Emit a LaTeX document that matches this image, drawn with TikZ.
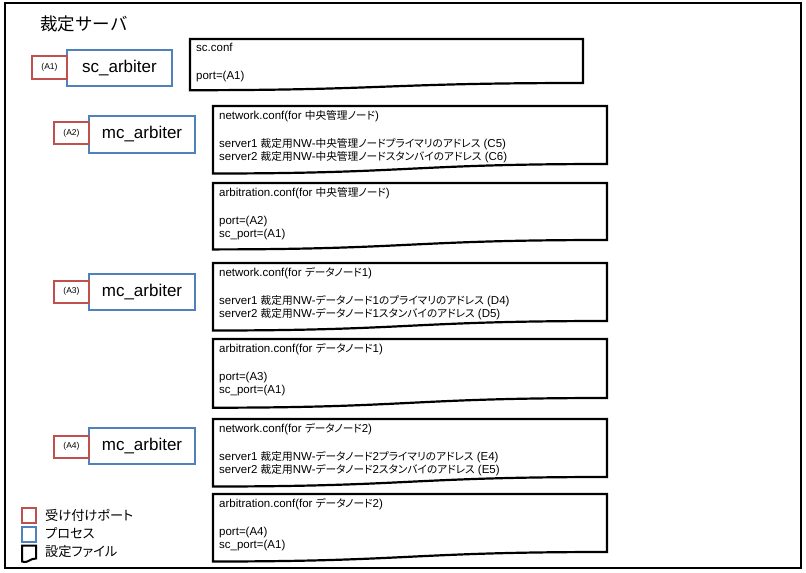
\documentclass[tikz,border=0pt]{standalone}
\usepackage{fontspec}
\setmainfont{Liberation Sans}
\newfontfamily\jp[RawFeature=+palt,Scale=0.93]{Noto Sans CJK JP}
\newfontfamily\jpw{Noto Sans CJK JP}
\definecolor{pred}{HTML}{C0504D}
\definecolor{pblue}{HTML}{4F81BD}
\newcommand\mydoc[6]{%
  \draw[docline] (#1,#3) -- (#2,#3) -- (#2,#4) .. controls (#6,#4) and (#6,#5) .. (#1,#5) -- cycle;}
\begin{document}
\begin{tikzpicture}[x=1pt,y=-1pt,
  frame/.style={draw=black,line width=2pt},
  procbox/.style={draw=pblue,line width=2pt,fill=white,minimum width=106pt,minimum height=36pt,inner sep=0pt,font=\fontsize{17}{20}\selectfont},
  portbox/.style={draw=pred,line width=2pt,fill=white,minimum width=35pt,minimum height=22pt,inner sep=0pt,font=\fontsize{8.5}{10}\selectfont},
  docline/.style={draw=black,line width=2.2pt,fill=white,line join=miter},
  conftext/.style={anchor=base west,inner sep=0pt,font=\fontsize{11.5}{13}\selectfont},
  legtext/.style={anchor=base west,inner sep=0pt,font=\fontsize{14.2}{16}\selectfont\jp},
]
\useasboundingbox (0,0) rectangle (806,573);
\fill[white] (0,0) rectangle (806,573);
\draw[frame] (5,3) rectangle (800.5,568);
\node[anchor=west,inner sep=0pt,font=\fontsize{17.5}{20}\selectfont\jpw] (title) at (40,23.5) {裁定サーバ};

% processes and ports
\node[procbox,minimum width=105pt] (p1) at (119.5,68) {sc\_arbiter};
\node[portbox,minimum height=23pt] (a1) at (49.5,67.5) {(A1)};
\node[procbox,minimum height=37pt] (p2) at (142,134.5) {mc\_arbiter};
\node[portbox] (a2) at (71.5,133) {(A2)};
\node[procbox] (p3) at (142,292) {mc\_arbiter};
\node[portbox] (a3) at (71.5,291.5) {(A3)};
\node[procbox] (p4) at (142,446) {mc\_arbiter};
\node[portbox] (a4) at (71.5,446.5) {(A4)};

% config documents
\mydoc{190}{583}{39}{83}{90.2}{386.5}
\node[conftext] (s1) at (196,51.5) {sc.conf};
\node[conftext] (s2) at (196,79.5) {port=(A1)};

\mydoc{213}{607}{106}{164}{173.5}{410}
\node[conftext] (n1a) at (219,119) {network.conf(for {\jp 中央管理ノード})};
\node[conftext] (n1b) at (219,147.5) {server1 {\jp 裁定用}NW-{\jp 中央管理ノードプライマリのアドレス} (C5)};
\node[conftext] (n1c) at (219,160) {server2 {\jp 裁定用}NW-{\jp 中央管理ノードスタンバイのアドレス} (C6)};

\mydoc{213}{607}{183}{240}{249.4}{410}
\node[conftext] (r1a) at (219,196) {arbitration.conf(for {\jp 中央管理ノード})};
\node[conftext] (r1b) at (219,224.5) {port=(A2)};
\node[conftext] (r1c) at (219,237) {sc\_port=(A1)};

\mydoc{213}{607}{263}{321}{330.5}{410}
\node[conftext] (n2a) at (219,276) {network.conf(for {\jp データノード}1)};
\node[conftext] (n2b) at (219,304.5) {server1 {\jp 裁定用}NW-{\jp データノード}1{\jp のプライマリのアドレス} (D4)};
\node[conftext] (n2c) at (219,317) {server2 {\jp 裁定用}NW-{\jp データノード}1{\jp スタンバイのアドレス} (D5)};

\mydoc{213}{607}{339}{398}{407.7}{410}
\node[conftext] (r2a) at (219,352) {arbitration.conf(for {\jp データノード}1)};
\node[conftext] (r2b) at (219,380.5) {port=(A3)};
\node[conftext] (r2c) at (219,393) {sc\_port=(A1)};

\mydoc{213}{607}{419}{477}{486.5}{410}
\node[conftext] (n3a) at (219,432) {network.conf(for {\jp データノード}2)};
\node[conftext] (n3b) at (219,460.5) {server1 {\jp 裁定用}NW-{\jp データノード}2{\jp プライマリのアドレス} (E4)};
\node[conftext] (n3c) at (219,473) {server2 {\jp 裁定用}NW-{\jp データノード}2{\jp スタンバイのアドレス} (E5)};

\mydoc{213}{607}{494}{552}{561.5}{410}
\node[conftext] (r3a) at (219,507) {arbitration.conf(for {\jp データノード}2)};
\node[conftext] (r3b) at (219,535.5) {port=(A4)};
\node[conftext] (r3c) at (219,548) {sc\_port=(A1)};

% legend
\node[draw=pred,line width=2pt,minimum width=14pt,minimum height=15pt,inner sep=0pt] (lr) at (29,515.5) {};
\node[draw=pblue,line width=2pt,minimum width=14pt,minimum height=15pt,inner sep=0pt] (lb) at (29,534.5) {};
\draw[black,line width=2pt,line join=miter] (22,545.5) -- (36,545.5) -- (36,558.5) .. controls (29,558.5) and (29,563.5) .. (22,561.5) -- cycle;
\node[legtext] (l1) at (45,520.5) {受け付けポート};
\node[legtext] (l2) at (45,538.5) {プロセス};
\node[legtext] (l3) at (45,556.5) {設定ファイル};
\end{tikzpicture}
\end{document}
